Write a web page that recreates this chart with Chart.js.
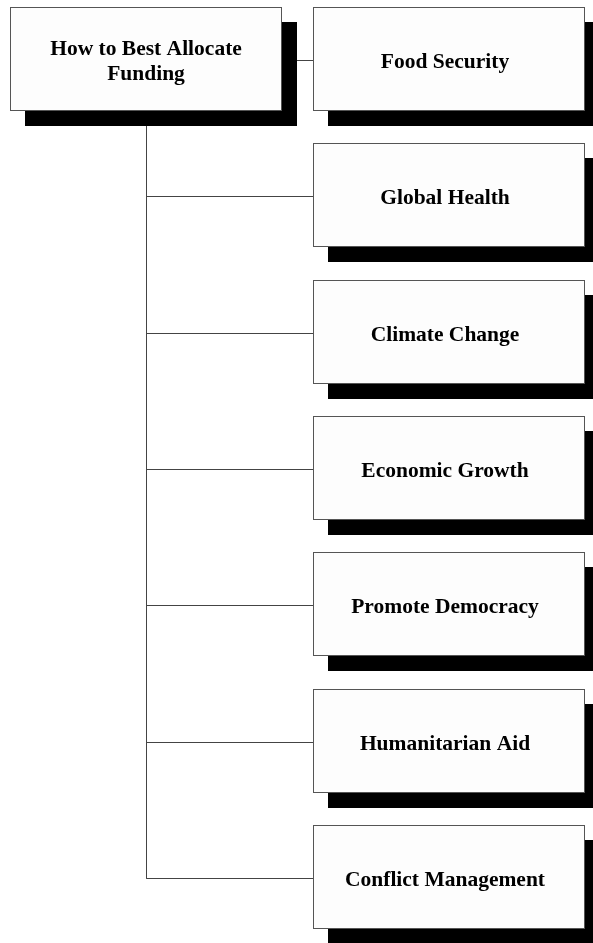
<!DOCTYPE html>
<html>
<head>
<meta charset="utf-8">
<script src="https://cdn.jsdelivr.net/npm/chart.js@4.4.1/dist/chart.umd.min.js"></script>
<style>
    html, body { margin: 0; padding: 0; background: #ffffff; }
    #wrap { width: 593px; height: 943px; position: relative; }
</style>
</head>
<body>
<div id="wrap"><canvas id="tree"></canvas></div>
<script>
// 数据：根节点和分支
const rootLabel = ['How to Best Allocate', 'Funding'];
const branchLabels = [
    'Food Security',
    'Global Health',
    'Climate Change',
    'Economic Growth',
    'Promote Democracy',
    'Humanitarian Aid',
    'Conflict Management'
];

// 布局参数 (单位 = 坐标轴数值)
const PAGE_W = 593;
const PAGE_H = 943;
const ROOT_LEFT = 10;
const CHILD_LEFT = 313;
const BOX_W = 272;
const BOX_H = 104;
const FIRST_TOP = 7;
const ROW_STEP = 136.3;
const SHADOW = 15;
const LINK_DY = 53.5;
const TEXT_DY = 3;        // 文字略偏下
const CHILD_TEXT_DX = -4; // 分支文字略偏左

function rowTop(i) { return Math.round(FIRST_TOP + i * ROW_STEP); }
function linkY(i) { return rowTop(i) + LINK_DY; }

const trunkX = ROOT_LEFT + BOX_W / 2 + 0.5;

// 连接线
const linkSets = [];
linkSets.push([{x: trunkX, y: rowTop(0) + BOX_H}, {x: trunkX, y: linkY(branchLabels.length - 1)}]);
branchLabels.forEach((b, i) => {
    const startX = i === 0 ? ROOT_LEFT + BOX_W : trunkX;
    linkSets.push([{x: startX, y: linkY(i)}, {x: CHILD_LEFT, y: linkY(i)}]);
});

const boxes = [{left: ROOT_LEFT, top: rowTop(0), lines: rootLabel, dx: 0}];
branchLabels.forEach((b, i) => boxes.push({left: CHILD_LEFT, top: rowTop(i), lines: [b], dx: CHILD_TEXT_DX}));

const boxPlugin = {
    id: 'boxPlugin',
    afterDatasetsDraw(chart) {
        const ctx = chart.ctx;
        const xs = chart.scales.x, ys = chart.scales.y;
        ctx.save();
        // 阴影
        boxes.forEach(b => {
            const x0 = xs.getPixelForValue(b.left + SHADOW), x1 = xs.getPixelForValue(b.left + BOX_W + SHADOW);
            const y0 = ys.getPixelForValue(b.top + SHADOW), y1 = ys.getPixelForValue(b.top + BOX_H + SHADOW);
            ctx.fillStyle = '#000000';
            ctx.fillRect(x0, y0, x1 - x0, y1 - y0);
        });
        // 方框 + 文字
        boxes.forEach(b => {
            const x0 = xs.getPixelForValue(b.left), x1 = xs.getPixelForValue(b.left + BOX_W);
            const y0 = ys.getPixelForValue(b.top), y1 = ys.getPixelForValue(b.top + BOX_H);
            ctx.fillStyle = '#fdfdfd';
            ctx.fillRect(x0, y0, x1 - x0, y1 - y0);
            ctx.strokeStyle = '#555555';
            ctx.lineWidth = 1;
            ctx.strokeRect(x0 + 0.5, y0 + 0.5, x1 - x0 - 1, y1 - y0 - 1);
            ctx.fillStyle = '#000000';
            ctx.font = 'bold 21.5px "Liberation Serif", "Times New Roman", serif';
            ctx.textAlign = 'center';
            ctx.textBaseline = 'middle';
            const lh = 25;
            const cx = xs.getPixelForValue(b.left + BOX_W / 2 + b.dx);
            const cy = ys.getPixelForValue(b.top + BOX_H / 2 + TEXT_DY);
            b.lines.forEach((t, k) => {
                ctx.fillText(t, cx, cy + (k - (b.lines.length - 1) / 2) * lh);
            });
        });
        ctx.restore();
    }
};

new Chart(document.getElementById('tree'), {
    type: 'scatter',
    data: {
        datasets: linkSets.map(pts => ({
            data: pts,
            showLine: true,
            borderColor: '#444444',
            borderWidth: 1,
            pointRadius: 0,
            fill: false
        }))
    },
    options: {
        responsive: true,
        maintainAspectRatio: false,
        animation: false,
        layout: { padding: 0 },
        plugins: { legend: { display: false }, tooltip: { enabled: false } },
        scales: {
            x: { type: 'linear', min: 0, max: PAGE_W, display: false },
            y: { type: 'linear', min: 0, max: PAGE_H, reverse: true, display: false }
        }
    },
    plugins: [boxPlugin]
});
</script>
</body>
</html>
